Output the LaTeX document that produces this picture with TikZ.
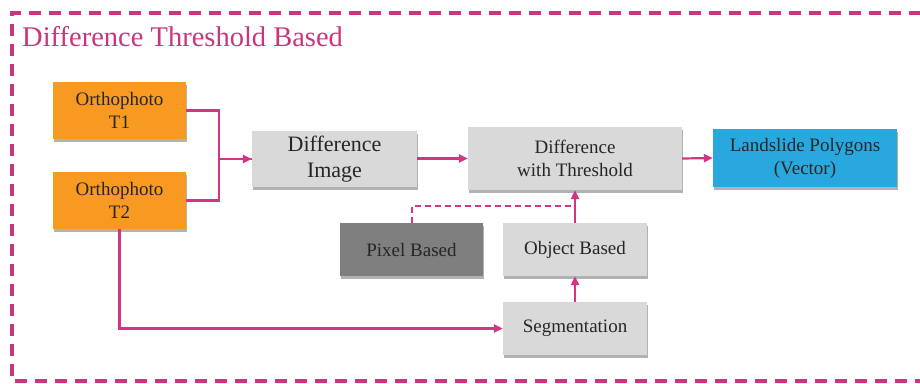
\documentclass[tikz,border=0pt]{standalone}
\usepackage{fontspec}
\setmainfont{LiberationSerif}[Extension=.ttf, UprightFont=*-Regular, BoldFont=*-Bold]
\usetikzlibrary{arrows.meta,shadows,calc}

\definecolor{accent}{HTML}{C8367D}
\definecolor{arrowpink}{HTML}{D63384}
\definecolor{orangebox}{HTML}{F89A21}
\definecolor{greybox}{HTML}{D9D9D9}
\definecolor{darkbox}{HTML}{7F7F7F}
\definecolor{bluebox}{HTML}{29A8E0}
\definecolor{txt}{HTML}{262626}

\tikzset{
  box/.style={draw=none, align=center, text=txt, inner sep=0pt,
    font=\fontsize{19}{23}\selectfont,
    drop shadow={shadow xshift=0.5pt, shadow yshift=-3pt, fill=black!55, opacity=0.55}},
  orangenode/.style={box, fill=orangebox},
  greynode/.style={box, fill=greybox},
  darknode/.style={box, fill=darkbox},
  bluenode/.style={box, fill=bluebox},
  link/.style={draw=arrowpink, line width=2.2pt},
  arrowlink/.style={link, -{Triangle[length=9pt,width=8pt]}},
  dashlink/.style={draw=arrowpink, line width=2pt, dash pattern=on 6pt off 4pt},
  frame/.style={draw=accent, line width=3.2pt, dash pattern=on 12pt off 8pt}
}

\begin{document}
\begin{tikzpicture}[x=1pt, y=-1pt]
  \useasboundingbox (0,0) rectangle (920,383);
  \fill[white] (0,0) rectangle (920,383);

  % outer dashed frame (right edge runs off the page)
  \draw[frame] (921,13) -- (12,13) -- (12,381) -- (921,381);
  \node[anchor=base west, text=accent, font=\fontsize{28.5}{32}\selectfont, inner sep=0pt]
    (title) at (22,46) {Difference Threshold Based};

  % process boxes
  \node[orangenode, minimum width=133pt, minimum height=57pt] (t1) at (119.5,110.5) {Orthophoto\\T1};
  \node[orangenode, minimum width=133pt, minimum height=57pt] (t2) at (119.5,200.5) {Orthophoto\\T2};
  \node[greynode, minimum width=165pt, minimum height=56pt,
        font=\fontsize{22}{26}\selectfont] (diff) at (334.5,159) {Difference\\Image};
  \node[greynode, minimum width=214pt, minimum height=63pt] (thr) at (575,158.5) {Difference\\with Threshold};
  \node[bluenode, minimum width=184pt, minimum height=58pt] (poly) at (805,158) {Landslide Polygons\\(Vector)};
  \node[darknode, minimum width=143pt, minimum height=53pt] (pix) at (411.5,249.5) {Pixel Based};
  \node[greynode, minimum width=144pt, minimum height=53pt] (obj) at (575,249.5) {Object Based};
  \node[greynode, minimum width=144pt, minimum height=53pt] (seg) at (575,328.5) {Segmentation};

  % connectors
  \coordinate (merge) at (575,206);
  \draw[link] (t2.east) -- ++(33,0) |- (diff.west);
  \draw[arrowlink] (t1.east) -- ++(33,0) |- (diff.west);
  \draw[arrowlink] (diff.east |- thr.west) -- (thr.west);
  \draw[arrowlink] (thr.east) -- (poly.west);
  \draw[dashlink] (pix.north) |- (merge);
  \draw[arrowlink] (obj.north) -- (thr.south);
  \draw[arrowlink] (seg.north) -- (obj.south);
  \draw[arrowlink] (t2.south) |- (seg.west);
\end{tikzpicture}
\end{document}
